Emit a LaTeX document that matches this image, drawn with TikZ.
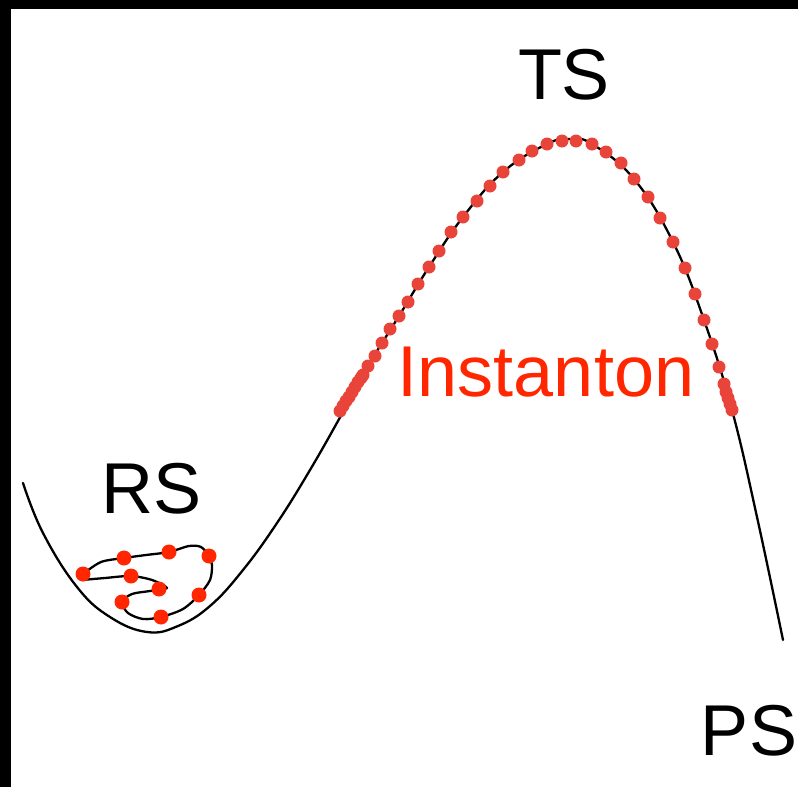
\documentclass[tikz,border=0pt]{standalone}
\usepackage{fontspec}
\setmainfont{Liberation Sans}
\definecolor{dotred}{HTML}{E9443A}
\definecolor{txtred}{HTML}{FF2600}
\begin{document}
\begin{tikzpicture}[x=1pt,y=-1pt,
  curve/.style={line width=2.3pt,line join=round,line cap=round},
  idot/.style={circle,fill=dotred,inner sep=0pt,minimum size=13pt},
  rdot/.style={circle,fill=txtred,inner sep=0pt,minimum size=15pt},
  lbl/.style={anchor=base,inner sep=0pt,font=\fontsize{72}{72}\selectfont}]
\useasboundingbox (0,0) rectangle (798,787);
\fill[white] (0,0) rectangle (798,787);
\fill[black] (0,0) rectangle (798,9);
\fill[black] (0,0) rectangle (11,787);
% main energy profile
\draw[curve] plot[smooth,tension=0.7] coordinates {
 (23,483) (43,533) (77,587) (110,617) (147,632) (178,626) (210,606) (243,570) (277,523) (310,470) (343,412)
 (368,366) (399,316) (429,267) (463,217) (503,172) (547,144) (570,139) (592,144) (634,179) (673,242) (704,320) (732,410) (757,517) (783,640)};
% tangled trajectory in the reactant well
\draw[curve] plot[smooth,tension=0.5] coordinates {
 (82,580) (105,578) (131,576) (152,580) (167,588) (150,591) (132,594) (122,602) (128,613) (143,619) (161,617) (183,609) (199,595) (210,580) (212,565) (209,556) (201,547) (189,546) (169,552) (146,555) (124,558) (101,562) (83,574)};
\foreach \p [count=\i] in {(83,574),(124,558),(169,552),(209,556),(131,576),(159,589),(122,602),(199,595),(161,617)}
  \node[rdot] (r\i) at \p {};
% instanton beads
\foreach \p [count=\i] in {(340,411),(343,406),(346,401),(349,397),(352,392),(355,387),(358,382),(361,378),(363,375),(368,366),(375,356),(382,343),(390,329),(399,316),(408,302),(418,284),(429,267),(439,251),(451,232),(463,217),(477,201),(490,186),(503,172),(519,160),(532,151),(547,144),(562,141),(576,141),(592,144),(606,152),(621,163),(634,179),(648,197),(660,218),(673,242),(685,268),(695,294),(704,320),(712,344),(719,367),(724,384),(726,392),(728,398),(730,404),(732,410)}
  \node[idot] (b\i) at \p {};
\node[lbl] (ts) at (564,99) {TS};
\node[lbl] (rs) at (152,513) {RS};
\node[lbl] (ps) at (749,755) {PS};
\node[lbl,text=txtred] (inst) at (546,396) {Instanton};
\end{tikzpicture}
\end{document}
